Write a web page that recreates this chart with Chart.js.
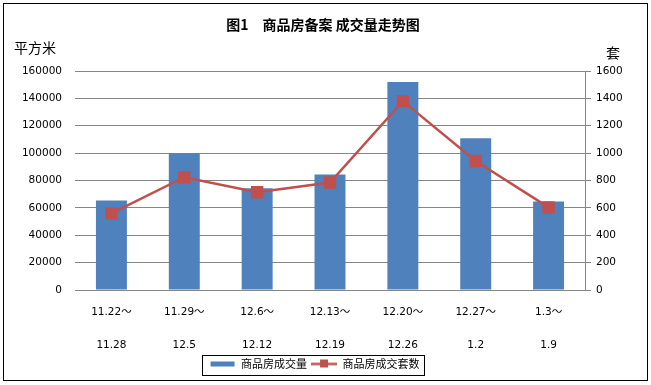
<!DOCTYPE html>
<html lang="zh-CN">
<head>
<meta charset="UTF-8">
<title>商品房备案 成交量走势图</title>
<script src="https://cdn.jsdelivr.net/npm/chart.js"></script>
<style>
  html, body { margin: 0; padding: 0; background: #fff; }
  #wrap { width: 651px; height: 385px; position: relative; }
</style>
</head>
<body>
<div id="wrap"><canvas id="houseChart" width="651" height="385"></canvas></div>
<script>
// week ranges (two-line tick labels)
const weekStart = ['11.22～', '11.29～', '12.6～', '12.13～', '12.20～', '12.27～', '1.3～'];
const weekEnd = ['11.28', '12.5', '12.12', '12.19', '12.26', '1.2', '1.9'];
// 成交量 (平方米)
const areaValues = [65300, 100000, 74300, 84400, 152000, 110800, 64600];
// 成交套数 (套)
const unitValues = [560, 824, 714, 785, 1380, 942, 604];

const leftTicks = [0, 20000, 40000, 60000, 80000, 100000, 120000, 140000, 160000];
const rightTicks = [0, 200, 400, 600, 800, 1000, 1200, 1400, 1600];

const BLUE = '#4F81BD';
const RED = '#C0504D';
const GRID = '#868686';
const CJK = '"Noto Sans CJK SC", sans-serif';
const LATIN = '"DejaVu Sans", "Noto Sans CJK SC", sans-serif';

// legend swatches
function swatch(kind) {
    const c = document.createElement('canvas');
    c.width = 26; c.height = 12;
    const g = c.getContext('2d');
    if (kind === 'bar') {
        g.fillStyle = BLUE;
        g.fillRect(1, 4, 24, 5);
    } else {
        g.strokeStyle = RED;
        g.lineWidth = 2.5;
        g.beginPath(); g.moveTo(0, 6.5); g.lineTo(26, 6.5); g.stroke();
        g.fillStyle = RED;
        g.fillRect(9, 2, 8, 8);
    }
    return c;
}

const frame = {
    id: 'frame',
    afterLayout(chart) {
        // legend sits a little left of centre in the original
        const lg = chart.legend;
        if (!lg) return;
        lg.left -= 11;
        lg.right -= 11;
        lg.legendHitBoxes.forEach(h => { h.left -= 11; });
    },
    afterDraw(chart) {
        const ctx = chart.ctx;
        ctx.save();
        // outer border
        ctx.strokeStyle = '#000';
        ctx.lineWidth = 1;
        ctx.strokeRect(3.5, 3.5, 644, 377);
        // title
        ctx.fillStyle = '#000';
        ctx.textAlign = 'center';
        ctx.textBaseline = 'middle';
        ctx.font = 'bold 14px ' + CJK;
        ctx.fillText('图1　商品房备案 成交量走势图', 323, 25);
        // units
        ctx.font = '14px ' + CJK;
        ctx.textAlign = 'left';
        ctx.fillText('平方米', 14, 48);
        ctx.fillText('套', 606, 53);
        // legend box
        const lg = chart.legend;
        if (lg && lg.legendHitBoxes.length) {
            const hb = lg.legendHitBoxes;
            const l = hb[0].left - 8, r = hb[hb.length - 1].left + hb[hb.length - 1].width + 4;
            ctx.strokeStyle = '#000';
            ctx.strokeRect(Math.round(l) + 0.5, 355.5, Math.round(r - l), 20);
        }
        ctx.restore();
    }
};

new Chart(document.getElementById('houseChart'), {
    data: {
        labels: weekStart.map((s, i) => [s, weekEnd[i]]),
        datasets: [{
            type: 'bar',
            label: '商品房成交量',
            data: areaValues,
            backgroundColor: BLUE,
            yAxisID: 'y',
            categoryPercentage: 1,
            barPercentage: 0.425,
            order: 2
        }, {
            type: 'line',
            label: '商品房成交套数',
            data: unitValues,
            borderColor: RED,
            backgroundColor: RED,
            borderWidth: 2.5,
            pointStyle: 'rect',
            pointRadius: 7,
            pointHoverRadius: 7,
            yAxisID: 'y1',
            order: 1
        }]
    },
    options: {
        responsive: false,
        animation: false,
        layout: { padding: { top: 71, bottom: 6, left: 0, right: 0 } },
        plugins: {
            tooltip: { enabled: false },
            title: { display: false },
            legend: {
                position: 'bottom',
                labels: {
                    color: '#000',
                    font: { family: CJK, size: 11 },
                    usePointStyle: true,
                    pointStyleWidth: 26,
                    boxHeight: 12,
                    padding: 4,
                    generateLabels() {
                        return [
                            { text: '商品房成交量', pointStyle: swatch('bar'), fillStyle: BLUE, strokeStyle: BLUE, lineWidth: 0, datasetIndex: 0, fontColor: '#000' },
                            { text: '商品房成交套数', pointStyle: swatch('line'), fillStyle: RED, strokeStyle: RED, lineWidth: 0, datasetIndex: 1, fontColor: '#000' }
                        ];
                    }
                }
            }
        },
        scales: {
            x: {
                grid: { display: false, drawTicks: false },
                border: { display: false },
                ticks: {
                    color: '#000',
                    font: { family: LATIN, size: 10.5, lineHeight: 3.1 },
                    maxRotation: 0,
                    padding: 6
                },
                afterFit(s) { s.height = 64; }
            },
            y: {
                position: 'left',
                min: 0,
                max: 160000,
                afterBuildTicks(s) { s.ticks = leftTicks.map(v => ({ value: v })); },
                grid: { color: GRID, drawTicks: false },
                border: { display: false },
                ticks: {
                    color: '#000',
                    font: { family: LATIN, size: 10.5 },
                    padding: 13,
                    callback: v => String(v)
                },
                afterFit(s) { s.width = 75; }
            },
            y1: {
                position: 'right',
                min: 0,
                max: 1600,
                afterBuildTicks(s) { s.ticks = rightTicks.map(v => ({ value: v })); },
                grid: { drawOnChartArea: false, color: GRID, tickLength: 6 },
                border: { display: true, color: GRID },
                ticks: {
                    color: '#000',
                    font: { family: LATIN, size: 10.5 },
                    padding: 5,
                    callback: v => String(v)
                },
                afterFit(s) { s.width = 66; }
            }
        }
    },
    plugins: [frame]
});
</script>
</body>
</html>
